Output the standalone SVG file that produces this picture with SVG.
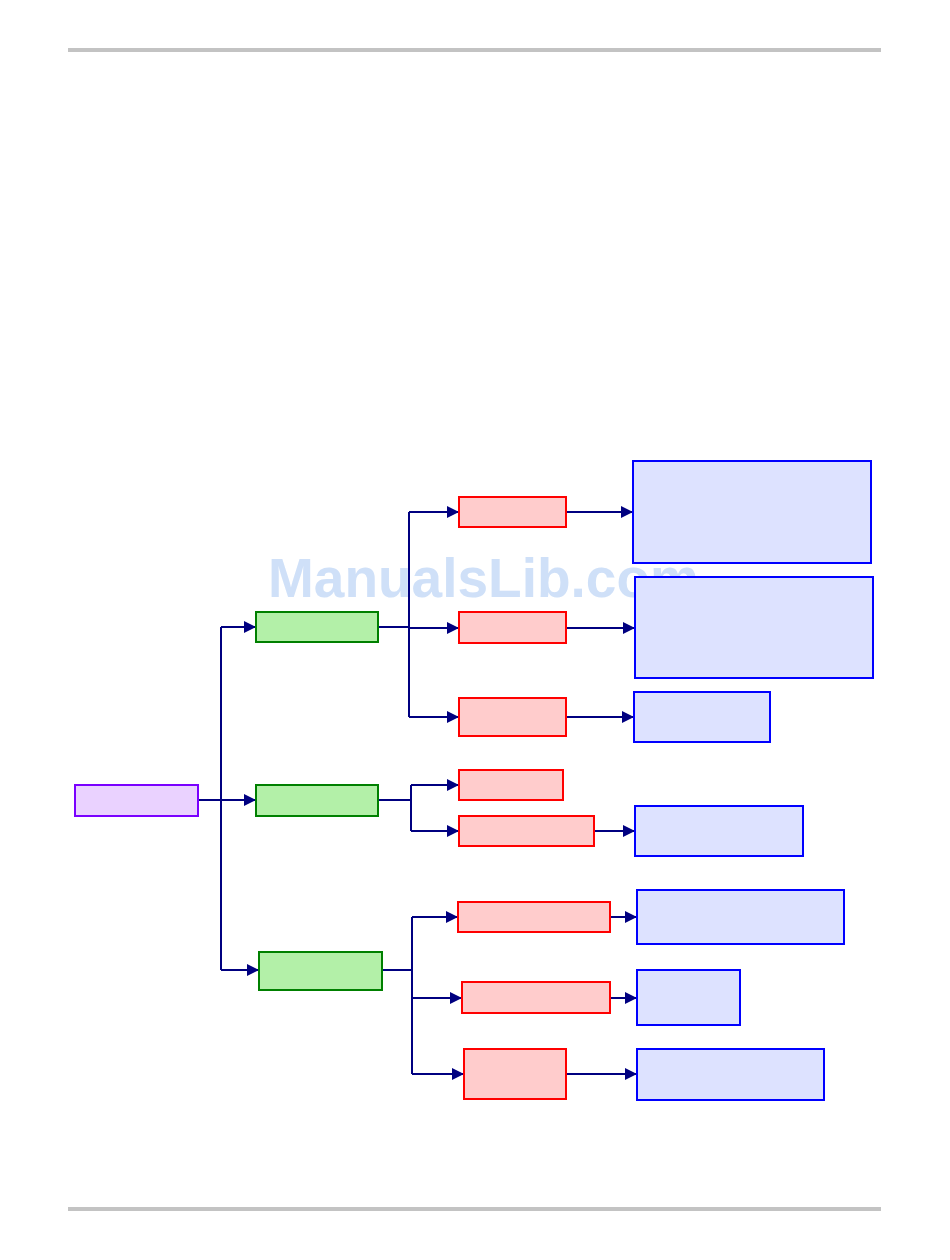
<svg xmlns="http://www.w3.org/2000/svg" width="950" height="1260" viewBox="0 0 950 1260">
<style>
.rule{fill:#c3c3c3}
.root{fill:#ead2ff;stroke:#7a00ff;stroke-width:2}
.g{fill:#b3f0a8;stroke:#008000;stroke-width:2}
.r{fill:#ffcccc;stroke:#ff0000;stroke-width:2}
.b{fill:#dde2ff;stroke:#0000ff;stroke-width:2}
.c{fill:none;stroke:#000080;stroke-width:2}
.wm{font-family:"Liberation Sans",Arial,sans-serif;font-weight:bold;font-size:55px;fill:#cfe0f8}
</style>
<defs>
<marker id="ah" markerUnits="userSpaceOnUse" markerWidth="13" markerHeight="12" refX="12" refY="6" orient="auto">
<path d="M0,0 L12,6 L0,12 Z" fill="#000080"/>
</marker>
</defs>
<rect class="rule" x="68" y="48" width="813" height="4"/>
<rect class="rule" x="68" y="1207" width="813" height="4"/>
<text class="wm" x="268" y="597">ManualsLib.com</text>
<g id="connectors">
<path class="c" d="M198,800 H256" marker-end="url(#ah)"/>
<path class="c" d="M221,627 V970"/>
<path class="c" d="M221,627 H256" marker-end="url(#ah)"/>
<path class="c" d="M221,970 H259" marker-end="url(#ah)"/>
<path class="c" d="M378,627 H409"/>
<path class="c" d="M409,512 V717"/>
<path class="c" d="M409,512 H459" marker-end="url(#ah)"/>
<path class="c" d="M409,628 H459" marker-end="url(#ah)"/>
<path class="c" d="M409,717 H459" marker-end="url(#ah)"/>
<path class="c" d="M566,512 H633" marker-end="url(#ah)"/>
<path class="c" d="M566,628 H635" marker-end="url(#ah)"/>
<path class="c" d="M566,717 H634" marker-end="url(#ah)"/>
<path class="c" d="M378,800 H411"/>
<path class="c" d="M411,785 V831"/>
<path class="c" d="M411,785 H459" marker-end="url(#ah)"/>
<path class="c" d="M411,831 H459" marker-end="url(#ah)"/>
<path class="c" d="M594,831 H635" marker-end="url(#ah)"/>
<path class="c" d="M382,970 H412"/>
<path class="c" d="M412,917 V1074"/>
<path class="c" d="M412,917 H458" marker-end="url(#ah)"/>
<path class="c" d="M412,998 H462" marker-end="url(#ah)"/>
<path class="c" d="M412,1074 H464" marker-end="url(#ah)"/>
<path class="c" d="M610,917 H637" marker-end="url(#ah)"/>
<path class="c" d="M610,998 H637" marker-end="url(#ah)"/>
<path class="c" d="M566,1074 H637" marker-end="url(#ah)"/>
</g>
<g id="root"><rect class="root" x="75" y="785" width="123" height="31"/></g>
<g id="g1"><rect class="g" x="256" y="612" width="122" height="30"/></g>
<g id="g2"><rect class="g" x="256" y="785" width="122" height="31"/></g>
<g id="g3"><rect class="g" x="259" y="952" width="123" height="38"/></g>
<g id="r1"><rect class="r" x="459" y="497" width="107" height="30"/></g>
<g id="r2"><rect class="r" x="459" y="612" width="107" height="31"/></g>
<g id="r3"><rect class="r" x="459" y="698" width="107" height="38"/></g>
<g id="r4"><rect class="r" x="459" y="770" width="104" height="30"/></g>
<g id="r5"><rect class="r" x="459" y="816" width="135" height="30"/></g>
<g id="r6"><rect class="r" x="458" y="902" width="152" height="30"/></g>
<g id="r7"><rect class="r" x="462" y="982" width="148" height="31"/></g>
<g id="r8"><rect class="r" x="464" y="1049" width="102" height="50"/></g>
<g id="b1"><rect class="b" x="633" y="461" width="238" height="102"/></g>
<g id="b2"><rect class="b" x="635" y="577" width="238" height="101"/></g>
<g id="b3"><rect class="b" x="634" y="692" width="136" height="50"/></g>
<g id="b4"><rect class="b" x="635" y="806" width="168" height="50"/></g>
<g id="b5"><rect class="b" x="637" y="890" width="207" height="54"/></g>
<g id="b6"><rect class="b" x="637" y="970" width="103" height="55"/></g>
<g id="b7"><rect class="b" x="637" y="1049" width="187" height="51"/></g>
</svg>
